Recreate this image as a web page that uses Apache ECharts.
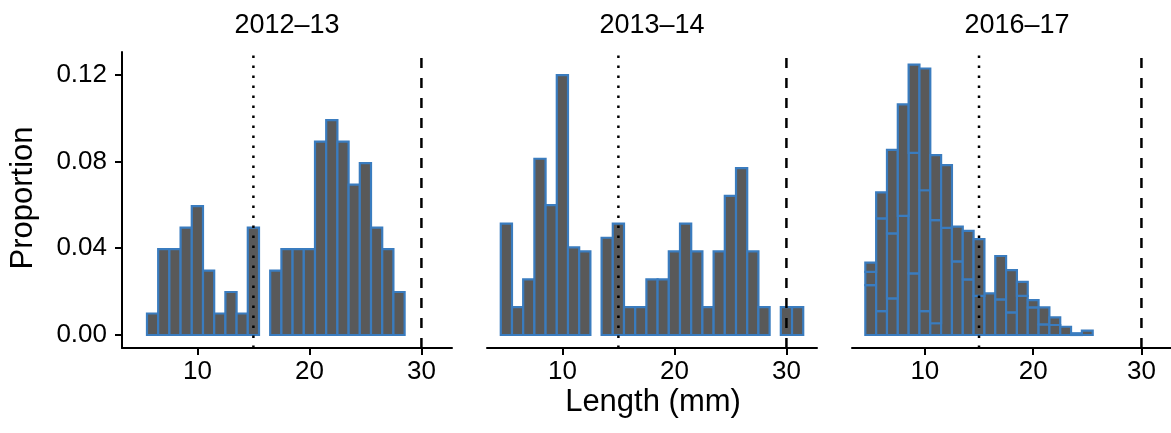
<!DOCTYPE html>
<html>
<head>
<meta charset="utf-8">
<script src="https://cdn.jsdelivr.net/npm/echarts@6/dist/echarts.min.js"></script>
<style>
html,body{margin:0;padding:0;background:#fff;}
#chart{width:1171px;height:433px;}
</style>
</head>
<body>
<div id="chart"></div>
<script>
const panelTitles = ['2012\u201313', '2013\u201314', '2016\u201317'];
const xTicks = [10, 20, 30];
const yTicks = [0, 0.04, 0.08, 0.12];
const refLines = [15, 30];

// 2012–13
const lengths1 = [6,7,8,9,10,11,12,13,14,15,17,18,19,20,21,22,23,24,25,26,27,28];
const prop1 = [0.0099,0.0396,0.0396,0.0495,0.0594,0.0297,0.0099,0.0198,0.0099,0.0495,
               0.0297,0.0396,0.0396,0.0396,0.0891,0.0990,0.0891,0.0693,0.0792,0.0495,0.0396,0.0198];

// 2013–14
const lengths2 = [5,6,7,8,9,10,11,12,14,15,16,17,18,19,20,21,22,23,24,25,26,27,28,30,31];
const prop2 = [0.0513,0.0128,0.0256,0.0812,0.0598,0.1197,0.0404,0.0385,0.0448,0.0513,
               0.0128,0.0128,0.0256,0.0256,0.0385,0.0513,0.0385,0.0128,0.0385,0.0641,
               0.0769,0.0385,0.0128,0.0128,0.0128];

// 2016–17 (stacked groups)
const lengths3 = [5,6,7,8,9,10,11,12,13,14,15,16,17,18,19,20,21,22,23,24,25];
const prop3a = [0.0230,0.0110,0.0169,0.0549,0.0284,0.0110,0.0054,0.0494,0.0339,0.0256,
                0.0180,0.0192,0.0164,0.0104,0.0180,0.0127,0.0049,0.0046,0.0038,0.0008,0.0020];
const prop3b = [0.0061,0.0427,0.0299,0,0.0555,0.0557,0.0475,0,0,0,
                0,0,0,0,0,0,0,0,0,0,0];
const prop3c = [0.0042,0.0120,0.0385,0.0514,0.0407,0.0561,0.0300,0.0289,0.0160,0.0224,
                0.0262,0,0.0200,0.0195,0.0065,0.0034,0.0078,0.0035,0,0,0];

const FILL = '#595959';
const EDGE = '#3a7cbf';
const FONT = '"Liberation Sans", Arial, Helvetica, sans-serif';
const X_MIN = 3.27, X_MAX = 32.73;
const Y_MIN = -0.006, Y_MAX = 0.1304;

function simpleRects(lengths, props) {
  return lengths.map((x, i) => [x, 0, props[i]]);
}
function stackedRects(lengths, groups) {
  const out = [];
  const base = lengths.map(() => 0);
  groups.forEach(g => {
    lengths.forEach((x, i) => {
      if (g[i] > 0) {
        out.push([x, base[i], base[i] + g[i]]);
        base[i] += g[i];
      }
    });
  });
  return out;
}

function renderBar(params, api) {
  const x = api.value(0), y0 = api.value(1), y1 = api.value(2);
  const p0 = api.coord([x - 0.5, y1]);
  const p1 = api.coord([x + 0.5, y0]);
  return {
    type: 'rect',
    shape: { x: p0[0], y: p0[1], width: p1[0] - p0[0], height: p1[1] - p0[1] },
    style: { fill: FILL, stroke: EDGE, lineWidth: 2.2 }
  };
}

const panelData = [
  simpleRects(lengths1, prop1),
  simpleRects(lengths2, prop2),
  stackedRects(lengths3, [prop3a, prop3b, prop3c])
];

const lefts = [122, 487, 852];
const grids = lefts.map(l => ({ left: l, top: 52, width: 330, height: 296 }));

const xAxes = lefts.map((l, i) => ({
  type: 'value', gridIndex: i, min: X_MIN, max: X_MAX,
  axisLine: { show: true, onZero: false, lineStyle: { color: '#000', width: 2 } },
  axisTick: { show: true, length: 7, customValues: xTicks, lineStyle: { color: '#000', width: 2 } },
  axisLabel: { customValues: xTicks, color: '#000', fontSize: 26, fontFamily: FONT, margin: 11 },
  splitLine: { show: false }
}));

const yAxes = lefts.map((l, i) => ({
  type: 'value', gridIndex: i, min: Y_MIN, max: Y_MAX,
  show: i === 0,
  axisLine: { show: true, onZero: false, lineStyle: { color: '#000', width: 2 } },
  axisTick: { show: true, length: 7, customValues: yTicks, lineStyle: { color: '#000', width: 2 } },
  axisLabel: { customValues: yTicks, color: '#000', fontSize: 26, fontFamily: FONT, margin: 15,
               formatter: v => Number(v).toFixed(2) },
  splitLine: { show: false }
}));

const series = [];
panelData.forEach((d, i) => {
  series.push({
    type: 'custom', xAxisIndex: i, yAxisIndex: i,
    renderItem: renderBar, data: d,
    encode: { x: 0, y: [1, 2] }, silent: true, z: 2
  });
  refLines.forEach((rx, k) => {
    series.push({
      type: 'line', xAxisIndex: i, yAxisIndex: i,
      data: [[rx, Y_MIN], [rx, Y_MAX]],
      showSymbol: false, symbol: 'none', silent: true, z: 5,
      lineStyle: { color: '#000', width: 2.5, type: k === 0 ? [2.5, 7.5] : [10, 10], cap: 'butt' },
      animation: false
    });
  });
});

const graphics = panelTitles.map((t, i) => ({
  type: 'text', x: lefts[i] + 165, y: 26,
  style: { text: t, fill: '#000', font: '27px ' + FONT, align: 'center', verticalAlign: 'middle' }
}));
graphics.push({
  type: 'text', x: 653, y: 402,
  style: { text: 'Length (mm)', fill: '#000', font: '31px ' + FONT, align: 'center', verticalAlign: 'middle' }
});
graphics.push({
  type: 'text', x: 23, y: 198, rotation: Math.PI / 2,
  style: { text: 'Proportion', fill: '#000', font: '31px ' + FONT, align: 'center', verticalAlign: 'middle' }
});

const chart = echarts.init(document.getElementById('chart'), null, { renderer: 'canvas' });
chart.setOption({
  animation: false,
  backgroundColor: '#fff',
  grid: grids,
  xAxis: xAxes,
  yAxis: yAxes,
  series: series,
  graphic: graphics
});
</script>
</body>
</html>
